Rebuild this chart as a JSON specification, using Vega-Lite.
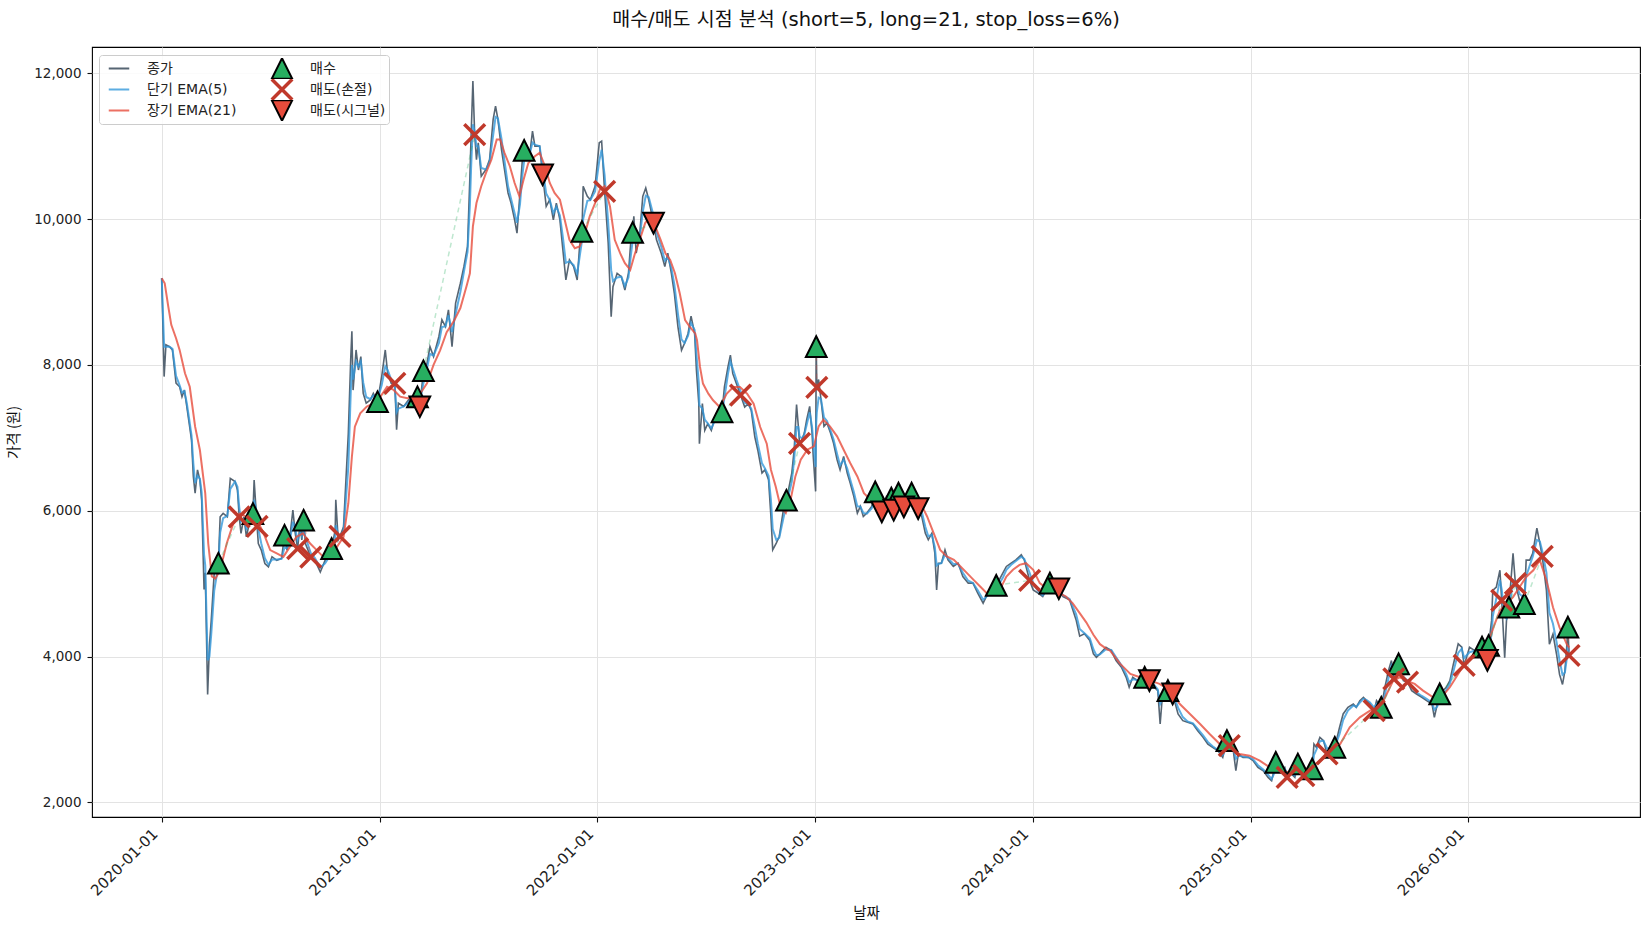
{
  "$schema": "https://vega.github.io/schema/vega-lite/v6.json",
  "width": 1548,
  "height": 770,
  "autosize": {"type": "none"},
  "padding": {"left": 92, "top": 47, "right": 10, "bottom": 113},
  "background": "white",
  "title": {"text": "매수/매도 시점 분석 (short=5, long=21, stop_loss=6%)", "fontSize": 19.5, "fontWeight": "normal", "color": "#111111", "anchor": "middle", "offset": 17},
  "config": {
    "font": "DejaVu Sans, Noto Sans CJK KR",
    "view": {"stroke": "#000000", "strokeWidth": 1.1}
  },
  "datasets": {
    "price": [
      {"d":"2020-01-01","c":9190,"e":9190},{"d":"2020-01-05","c":7840,"e":8250},{"d":"2020-01-08","c":8275,"e":8250},{"d":"2020-01-14","c":8250,"e":8250},{"d":"2020-01-19","c":8205,"e":8220},{"d":"2020-01-25","c":7750,"e":7850},{"d":"2020-01-31","c":7700,"e":7720},{"d":"2020-02-04","c":7565,"e":7620},{"d":"2020-02-08","c":7655,"e":7640},{"d":"2020-02-12","c":7430,"e":7480},{"d":"2020-02-16","c":7200,"e":7260},{"d":"2020-02-20","c":6970,"e":7030},{"d":"2020-02-23","c":6470,"e":6650},{"d":"2020-02-26","c":6240,"e":6380},{"d":"2020-03-01","c":6560,"e":6480},{"d":"2020-03-05","c":6420,"e":6440},{"d":"2020-03-08","c":6150,"e":6250},{"d":"2020-03-12","c":4920,"e":5400},{"d":"2020-03-14","c":5150,"e":5250},{"d":"2020-03-18","c":3480,"e":3950},{"d":"2020-03-21","c":4150,"e":4000},{"d":"2020-03-24","c":4490,"e":4300},{"d":"2020-03-29","c":5140,"e":4900},{"d":"2020-04-05","c":5280,"e":5250},{"d":"2020-04-08","c":5918,"e":5700},{"d":"2020-04-13","c":5963,"e":5900},{"d":"2020-04-20","c":5918,"e":5930},{"d":"2020-04-25","c":6444,"e":6300},{"d":"2020-05-03","c":6400,"e":6400},{"d":"2020-05-07","c":6284,"e":6330},{"d":"2020-05-10","c":5915,"e":6050},{"d":"2020-05-13","c":5690,"e":5850},{"d":"2020-05-18","c":5918,"e":5880},{"d":"2020-05-22","c":5643,"e":5750},{"d":"2020-05-28","c":5870,"e":5820},{"d":"2020-06-02","c":5962,"e":5900},{"d":"2020-06-04","c":6420,"e":6150},{"d":"2020-06-09","c":5787,"e":5950},{"d":"2020-06-11","c":5550,"e":5750},{"d":"2020-06-16","c":5460,"e":5550},{"d":"2020-06-22","c":5277,"e":5350},{"d":"2020-06-28","c":5230,"e":5260},{"d":"2020-07-04","c":5370,"e":5330},{"d":"2020-07-12","c":5320,"e":5330},{"d":"2020-07-20","c":5345,"e":5340},{"d":"2020-07-25","c":5664,"e":5500},{"d":"2020-07-29","c":5460,"e":5480},{"d":"2020-08-03","c":5643,"e":5580},{"d":"2020-08-08","c":6010,"e":5850},{"d":"2020-08-12","c":5690,"e":5750},{"d":"2020-08-16","c":5481,"e":5600},{"d":"2020-08-20","c":5826,"e":5700},{"d":"2020-08-23","c":5600,"e":5650},{"d":"2020-08-26","c":5870,"e":5750},{"d":"2020-08-29","c":5550,"e":5640},{"d":"2020-09-07","c":5365,"e":5420},{"d":"2020-09-14","c":5320,"e":5350},{"d":"2020-09-23","c":5160,"e":5220},{"d":"2020-10-01","c":5320,"e":5280},{"d":"2020-10-12","c":5481,"e":5420},{"d":"2020-10-18","c":5735,"e":5600},{"d":"2020-10-19","c":6150,"e":5800},{"d":"2020-10-23","c":5600,"e":5680},{"d":"2020-10-26","c":5650,"e":5660},{"d":"2020-11-01","c":5780,"e":5720},{"d":"2020-11-09","c":7060,"e":6600},{"d":"2020-11-13","c":8070,"e":7600},{"d":"2020-11-15","c":8460,"e":8000},{"d":"2020-11-17","c":7655,"e":7800},{"d":"2020-11-22","c":8205,"e":8050},{"d":"2020-11-26","c":7930,"e":7980},{"d":"2020-11-30","c":8115,"e":8050},{"d":"2020-12-04","c":7610,"e":7760},{"d":"2020-12-09","c":7475,"e":7560},{"d":"2020-12-16","c":7520,"e":7530},{"d":"2020-12-21","c":7610,"e":7580},{"d":"2020-12-28","c":7495,"e":7530},
      {"d":"2021-01-04","c":7840,"e":7720},{"d":"2021-01-10","c":8205,"e":7980},{"d":"2021-01-14","c":7885,"e":7930},{"d":"2021-01-20","c":7750,"e":7800},{"d":"2021-01-26","c":7747,"e":7700},{"d":"2021-01-29","c":7110,"e":7350},{"d":"2021-02-01","c":7475,"e":7400},{"d":"2021-02-10","c":7430,"e":7430},{"d":"2021-02-18","c":7520,"e":7490},{"d":"2021-02-26","c":7565,"e":7540},{"d":"2021-03-05","c":7563,"e":7560},{"d":"2021-03-09","c":7426,"e":7480},{"d":"2021-03-15","c":7920,"e":7750},{"d":"2021-03-21","c":8020,"e":7950},{"d":"2021-03-26","c":8250,"e":8150},{"d":"2021-04-01","c":8115,"e":8130},{"d":"2021-04-10","c":8390,"e":8300},{"d":"2021-04-15","c":8620,"e":8520},{"d":"2021-04-21","c":8525,"e":8530},{"d":"2021-04-26","c":8755,"e":8680},{"d":"2021-05-02","c":8250,"e":8450},{"d":"2021-05-08","c":8847,"e":8700},{"d":"2021-05-16","c":9120,"e":9000},{"d":"2021-05-22","c":9350,"e":9280},{"d":"2021-05-28","c":9625,"e":9550},{"d":"2021-06-01","c":10587,"e":10200},{"d":"2021-06-03","c":11138,"e":10700},{"d":"2021-06-06","c":11895,"e":11300},{"d":"2021-06-09","c":11158,"e":11200},{"d":"2021-06-12","c":10816,"e":11000},{"d":"2021-06-15","c":11046,"e":11000},{"d":"2021-06-20","c":10587,"e":10700},{"d":"2021-06-28","c":10680,"e":10680},{"d":"2021-07-04","c":10816,"e":10780},{"d":"2021-07-10","c":11367,"e":11150},{"d":"2021-07-14","c":11550,"e":11400},{"d":"2021-07-18","c":11367,"e":11380},{"d":"2021-07-24","c":10954,"e":11100},{"d":"2021-07-29","c":10680,"e":10800},{"d":"2021-08-04","c":10358,"e":10450},{"d":"2021-08-09","c":10220,"e":10280},{"d":"2021-08-15","c":9990,"e":10080},{"d":"2021-08-19","c":9807,"e":9950},{"d":"2021-08-24","c":10358,"e":10200},{"d":"2021-08-28","c":10816,"e":10600},{"d":"2021-08-31","c":10942,"e":10800},{"d":"2021-09-04","c":11000,"e":10950},{"d":"2021-09-09","c":10862,"e":10880},{"d":"2021-09-14","c":11206,"e":11050},{"d":"2021-09-18","c":11000,"e":11020},{"d":"2021-09-26","c":11000,"e":11000},{"d":"2021-10-01","c":10608,"e":10700},{"d":"2021-10-07","c":10174,"e":10350},{"d":"2021-10-13","c":10266,"e":10260},{"d":"2021-10-19","c":9990,"e":10080},{"d":"2021-10-24","c":10220,"e":10170},{"d":"2021-10-30","c":9990,"e":10050},{"d":"2021-11-04","c":9578,"e":9750},{"d":"2021-11-09","c":9165,"e":9400},{"d":"2021-11-15","c":9440,"e":9420},{"d":"2021-11-22","c":9349,"e":9370},{"d":"2021-11-28","c":9165,"e":9250},{"d":"2021-12-02","c":9624,"e":9480},{"d":"2021-12-06","c":9830,"e":9700},{"d":"2021-12-08","c":10450,"e":10000},{"d":"2021-12-15","c":10312,"e":10250},{"d":"2021-12-20","c":10266,"e":10260},{"d":"2021-12-28","c":10450,"e":10380},
      {"d":"2022-01-04","c":11046,"e":10800},{"d":"2022-01-08","c":11069,"e":10950},{"d":"2022-01-13","c":10380,"e":10600},{"d":"2022-01-19","c":9670,"e":9950},{"d":"2022-01-24","c":8660,"e":9300},{"d":"2022-01-27","c":9073,"e":9150},{"d":"2022-02-03","c":9257,"e":9200},{"d":"2022-02-10","c":9211,"e":9210},{"d":"2022-02-16","c":9028,"e":9080},{"d":"2022-02-22","c":9257,"e":9200},{"d":"2022-02-26","c":9700,"e":9500},{"d":"2022-03-01","c":9816,"e":9700},{"d":"2022-03-03","c":10037,"e":9850},{"d":"2022-03-07","c":9532,"e":9680},{"d":"2022-03-13","c":9807,"e":9750},{"d":"2022-03-18","c":10312,"e":10100},{"d":"2022-03-23","c":10426,"e":10320},{"d":"2022-03-28","c":10266,"e":10300},{"d":"2022-04-05","c":9945,"e":10050},{"d":"2022-04-10","c":9715,"e":9820},{"d":"2022-04-18","c":9532,"e":9620},{"d":"2022-04-24","c":9349,"e":9430},{"d":"2022-04-29","c":9532,"e":9480},{"d":"2022-05-05","c":9257,"e":9330},{"d":"2022-05-10","c":8982,"e":9100},{"d":"2022-05-16","c":8523,"e":8700},{"d":"2022-05-22","c":8202,"e":8350},{"d":"2022-05-27","c":8294,"e":8300},{"d":"2022-06-02","c":8431,"e":8400},{"d":"2022-06-07","c":8670,"e":8580},{"d":"2022-06-13","c":8430,"e":8480},{"d":"2022-06-16","c":7930,"e":8150},{"d":"2022-06-20","c":7470,"e":7750},{"d":"2022-06-21","c":6920,"e":7450},{"d":"2022-06-26","c":7470,"e":7400},{"d":"2022-06-30","c":7103,"e":7250},{"d":"2022-07-05","c":7194,"e":7200},{"d":"2022-07-11","c":7103,"e":7130},{"d":"2022-07-19","c":7332,"e":7270},{"d":"2022-07-29","c":7357,"e":7340},{"d":"2022-08-02","c":7700,"e":7550},{"d":"2022-08-08","c":7977,"e":7880},{"d":"2022-08-12","c":8133,"e":8050},{"d":"2022-08-16","c":7880,"e":7950},{"d":"2022-08-22","c":7745,"e":7800},{"d":"2022-08-29","c":7587,"e":7640},{"d":"2022-09-05","c":7423,"e":7480},{"d":"2022-09-11","c":7470,"e":7460},{"d":"2022-09-16","c":7377,"e":7400},{"d":"2022-09-22","c":7011,"e":7150},{"d":"2022-09-27","c":6830,"e":6920},{"d":"2022-10-04","c":6517,"e":6650},{"d":"2022-10-09","c":6563,"e":6580},{"d":"2022-10-15","c":6425,"e":6480},{"d":"2022-10-19","c":5922,"e":6150},{"d":"2022-10-22","c":5464,"e":5750},{"d":"2022-10-28","c":5556,"e":5600},{"d":"2022-11-02","c":5647,"e":5630},{"d":"2022-11-09","c":6014,"e":5900},{"d":"2022-11-14","c":6144,"e":6080},{"d":"2022-11-23","c":6517,"e":6400},{"d":"2022-11-27","c":6837,"e":6700},{"d":"2022-12-01","c":7455,"e":7150},{"d":"2022-12-04","c":7158,"e":7150},{"d":"2022-12-06","c":6923,"e":7020},{"d":"2022-12-10","c":6975,"e":6990},{"d":"2022-12-14","c":7066,"e":7040},{"d":"2022-12-18","c":7249,"e":7180},{"d":"2022-12-23","c":7432,"e":7350},{"d":"2022-12-27","c":7066,"e":7150},{"d":"2022-12-29","c":6746,"e":6950},
      {"d":"2023-01-02","c":6265,"e":6600},{"d":"2023-01-03","c":8250,"e":7200},{"d":"2023-01-04","c":7692,"e":7350},{"d":"2023-01-07","c":7800,"e":7550},{"d":"2023-01-11","c":7524,"e":7530},{"d":"2023-01-16","c":7158,"e":7280},{"d":"2023-01-21","c":7204,"e":7230},{"d":"2023-01-27","c":7066,"e":7100},{"d":"2023-02-01","c":6929,"e":6980},{"d":"2023-02-07","c":6700,"e":6780},{"d":"2023-02-12","c":6563,"e":6620},{"d":"2023-02-18","c":6746,"e":6700},{"d":"2023-02-24","c":6517,"e":6580},{"d":"2023-03-01","c":6380,"e":6430},{"d":"2023-03-07","c":6197,"e":6260},{"d":"2023-03-13","c":5968,"e":6060},{"d":"2023-03-18","c":6060,"e":6060},{"d":"2023-03-23","c":5922,"e":5970},{"d":"2023-03-29","c":5968,"e":5960},{"d":"2023-04-06","c":6060,"e":6030},{"d":"2023-04-12","c":6258,"e":6150},{"d":"2023-04-18","c":6150,"e":6160},{"d":"2023-04-23","c":5984,"e":6050},{"d":"2023-05-01","c":6197,"e":6130},{"d":"2023-05-09","c":6174,"e":6160},{"d":"2023-05-13","c":6007,"e":6080},{"d":"2023-05-21","c":6242,"e":6180},{"d":"2023-05-23","c":6357,"e":6260},{"d":"2023-05-30","c":6052,"e":6150},{"d":"2023-06-07","c":6150,"e":6150},{"d":"2023-06-12","c":6242,"e":6200},{"d":"2023-06-17","c":6197,"e":6200},{"d":"2023-06-23","c":6030,"e":6100},{"d":"2023-06-29","c":5922,"e":5990},{"d":"2023-07-05","c":5693,"e":5780},{"d":"2023-07-10","c":5602,"e":5650},{"d":"2023-07-16","c":5693,"e":5670},{"d":"2023-07-21","c":5419,"e":5500},{"d":"2023-07-24","c":4915,"e":5250},{"d":"2023-07-27","c":5281,"e":5270},{"d":"2023-08-01","c":5281,"e":5280},{"d":"2023-08-07","c":5464,"e":5400},{"d":"2023-08-12","c":5327,"e":5350},{"d":"2023-08-21","c":5236,"e":5270},{"d":"2023-08-29","c":5281,"e":5270},{"d":"2023-09-06","c":5098,"e":5150},{"d":"2023-09-15","c":5007,"e":5040},{"d":"2023-09-23","c":5007,"e":5010},{"d":"2023-10-01","c":4869,"e":4910},{"d":"2023-10-10","c":4732,"e":4780},{"d":"2023-10-18","c":4869,"e":4840},{"d":"2023-10-26","c":4869,"e":4860},{"d":"2023-11-01","c":4977,"e":4930},{"d":"2023-11-12","c":5144,"e":5080},{"d":"2023-11-18","c":5236,"e":5190},{"d":"2023-11-26","c":5281,"e":5260},{"d":"2023-12-04","c":5327,"e":5310},{"d":"2023-12-13","c":5396,"e":5370},{"d":"2023-12-18","c":5327,"e":5340},{"d":"2023-12-27","c":5045,"e":5150},
      {"d":"2024-01-02","c":4915,"e":5000},{"d":"2024-01-10","c":4869,"e":4900},{"d":"2024-01-18","c":4823,"e":4840},{"d":"2024-01-30","c":5008,"e":4950},{"d":"2024-02-04","c":4915,"e":4930},{"d":"2024-02-14","c":4930,"e":4920},{"d":"2024-02-21","c":4823,"e":4840},{"d":"2024-03-03","c":4778,"e":4790},{"d":"2024-03-14","c":4503,"e":4580},{"d":"2024-03-20","c":4280,"e":4380},{"d":"2024-03-28","c":4313,"e":4320},{"d":"2024-04-06","c":4221,"e":4250},{"d":"2024-04-12","c":4037,"e":4100},{"d":"2024-04-17","c":3991,"e":4020},{"d":"2024-04-23","c":4037,"e":4030},{"d":"2024-05-03","c":4128,"e":4100},{"d":"2024-05-12","c":4082,"e":4090},{"d":"2024-05-20","c":3945,"e":3990},{"d":"2024-05-29","c":3854,"e":3880},{"d":"2024-06-06","c":3716,"e":3760},{"d":"2024-06-11","c":3579,"e":3650},{"d":"2024-06-17","c":3716,"e":3690},{"d":"2024-06-25","c":3670,"e":3680},{"d":"2024-07-07","c":3716,"e":3700},{"d":"2024-07-15","c":3670,"e":3680},{"d":"2024-07-23","c":3579,"e":3610},{"d":"2024-07-29","c":3533,"e":3550},{"d":"2024-08-02","c":3075,"e":3350},{"d":"2024-08-06","c":3487,"e":3420},{"d":"2024-08-15","c":3533,"e":3500},{"d":"2024-08-23","c":3487,"e":3500},{"d":"2024-09-01","c":3213,"e":3300},{"d":"2024-09-09","c":3121,"e":3170},{"d":"2024-09-17","c":3098,"e":3110},{"d":"2024-09-26","c":3075,"e":3085},{"d":"2024-10-04","c":2984,"e":3010},{"d":"2024-10-13","c":2892,"e":2920},{"d":"2024-10-21","c":2800,"e":2830},{"d":"2024-10-29","c":2755,"e":2770},{"d":"2024-11-07","c":2709,"e":2720},{"d":"2024-11-15","c":2618,"e":2650},{"d":"2024-11-22","c":2848,"e":2760},{"d":"2024-11-26","c":2779,"e":2770},{"d":"2024-12-02","c":2755,"e":2760},{"d":"2024-12-07","c":2435,"e":2600},{"d":"2024-12-11","c":2663,"e":2640},{"d":"2024-12-19","c":2618,"e":2630},{"d":"2024-12-28","c":2618,"e":2620},
      {"d":"2025-01-05","c":2572,"e":2590},{"d":"2025-01-13","c":2480,"e":2510},{"d":"2025-01-22","c":2435,"e":2450},{"d":"2025-01-30","c":2343,"e":2380},{"d":"2025-02-05","c":2297,"e":2320},{"d":"2025-02-12","c":2550,"e":2450},{"d":"2025-02-19","c":2435,"e":2440},{"d":"2025-02-27","c":2480,"e":2460},{"d":"2025-03-03","c":2344,"e":2400},{"d":"2025-03-08","c":2412,"e":2400},{"d":"2025-03-16","c":2343,"e":2370},{"d":"2025-03-21","c":2527,"e":2450},{"d":"2025-03-24","c":2389,"e":2420},{"d":"2025-03-31","c":2367,"e":2380},{"d":"2025-04-07","c":2389,"e":2385},{"d":"2025-04-14","c":2459,"e":2430},{"d":"2025-04-17","c":2800,"e":2650},{"d":"2025-04-21","c":2755,"e":2720},{"d":"2025-04-27","c":2892,"e":2840},{"d":"2025-05-03","c":2847,"e":2845},{"d":"2025-05-09","c":2665,"e":2740},{"d":"2025-05-17","c":2755,"e":2750},{"d":"2025-05-22","c":2756,"e":2760},{"d":"2025-05-30","c":3030,"e":2940},{"d":"2025-06-05","c":3213,"e":3130},{"d":"2025-06-13","c":3304,"e":3260},{"d":"2025-06-22","c":3350,"e":3330},{"d":"2025-06-27","c":3304,"e":3310},{"d":"2025-07-03","c":3396,"e":3370},{"d":"2025-07-09","c":3442,"e":3420},{"d":"2025-07-14","c":3396,"e":3405},{"d":"2025-07-20","c":3350,"e":3370},{"d":"2025-07-27","c":3260,"e":3300},{"d":"2025-07-31","c":3396,"e":3350},{"d":"2025-08-08","c":3304,"e":3330},{"d":"2025-08-14","c":3579,"e":3480},{"d":"2025-08-20","c":3808,"e":3700},{"d":"2025-08-25","c":3945,"e":3870},{"d":"2025-08-29","c":3695,"e":3770},{"d":"2025-09-02","c":3670,"e":3710},{"d":"2025-09-06","c":3901,"e":3800},{"d":"2025-09-14","c":3670,"e":3720},{"d":"2025-09-21","c":3649,"e":3670},{"d":"2025-09-28","c":3533,"e":3580},{"d":"2025-10-06","c":3487,"e":3510},{"d":"2025-10-15","c":3442,"e":3460},{"d":"2025-10-23","c":3396,"e":3420},{"d":"2025-11-01","c":3350,"e":3370},{"d":"2025-11-05","c":3167,"e":3270},{"d":"2025-11-10","c":3350,"e":3320},{"d":"2025-11-14","c":3489,"e":3420},{"d":"2025-11-25","c":3579,"e":3540},{"d":"2025-12-01","c":3670,"e":3630},{"d":"2025-12-07","c":3899,"e":3800},{"d":"2025-12-15","c":4174,"e":4050},{"d":"2025-12-21","c":4128,"e":4110},{"d":"2025-12-25","c":3878,"e":3980},
      {"d":"2026-01-03","c":4128,"e":4060},{"d":"2026-01-12","c":4082,"e":4080},{"d":"2026-01-20","c":4128,"e":4110},{"d":"2026-01-24","c":4129,"e":4120},{"d":"2026-01-31","c":4174,"e":4150},{"d":"2026-02-02","c":3947,"e":4050},{"d":"2026-02-04","c":4152,"e":4100},{"d":"2026-02-09","c":4493,"e":4300},{"d":"2026-02-11","c":4908,"e":4550},{"d":"2026-02-17","c":4954,"e":4800},{"d":"2026-02-23","c":5184,"e":5050},{"d":"2026-02-26","c":4770,"e":4920},{"d":"2026-03-03","c":3986,"e":4550},{"d":"2026-03-06","c":4493,"e":4520},{"d":"2026-03-10","c":4678,"e":4620},{"d":"2026-03-17","c":5415,"e":5050},{"d":"2026-03-21","c":5000,"e":5020},{"d":"2026-03-28","c":4770,"e":4860},{"d":"2026-04-05","c":4725,"e":4800},{"d":"2026-04-08","c":5323,"e":5100},{"d":"2026-04-14","c":5323,"e":5250},{"d":"2026-04-19","c":5415,"e":5370},{"d":"2026-04-26","c":5760,"e":5600},{"d":"2026-05-01","c":5553,"e":5580},{"d":"2026-05-05","c":5375,"e":5450},{"d":"2026-05-12","c":4908,"e":5150},{"d":"2026-05-17","c":4171,"e":4600},{"d":"2026-05-23","c":4309,"e":4450},{"d":"2026-05-29","c":4032,"e":4200},{"d":"2026-06-03","c":3756,"e":3950},{"d":"2026-06-08","c":3618,"e":3750},{"d":"2026-06-12","c":3802,"e":3780},{"d":"2026-06-15","c":4124,"e":3960},{"d":"2026-06-17","c":4404,"e":4150},{"d":"2026-06-19","c":4015,"e":4080}
    ],
    "ema21": [
      {"d":"2020-01-01","v":9190},{"d":"2020-01-06","v":9120},{"d":"2020-01-12","v":8800},{"d":"2020-01-17","v":8550},{"d":"2020-01-25","v":8366},{"d":"2020-01-31","v":8206},{"d":"2020-02-09","v":7886},{"d":"2020-02-17","v":7700},{"d":"2020-02-26","v":7153},{"d":"2020-03-05","v":6833},{"d":"2020-03-14","v":6238},{"d":"2020-03-19","v":5551},{"d":"2020-03-25","v":5100},{"d":"2020-03-31","v":5070},{"d":"2020-04-08","v":5185},{"d":"2020-04-19","v":5551},{"d":"2020-04-30","v":5826},{"d":"2020-05-11","v":5963},{"d":"2020-05-22","v":5918},{"d":"2020-06-06","v":5918},{"d":"2020-06-20","v":5690},{"d":"2020-07-01","v":5460},{"d":"2020-07-12","v":5414},{"d":"2020-07-23","v":5368},{"d":"2020-08-03","v":5505},{"d":"2020-08-14","v":5643},{"d":"2020-08-25","v":5690},{"d":"2020-09-06","v":5551},{"d":"2020-09-17","v":5460},{"d":"2020-09-28","v":5368},{"d":"2020-10-09","v":5414},{"d":"2020-10-21","v":5505},{"d":"2020-11-01","v":5643},{"d":"2020-11-09","v":6100},{"d":"2020-11-15","v":6741},{"d":"2020-11-20","v":7153},{"d":"2020-11-29","v":7336},{"d":"2020-12-10","v":7428},{"d":"2020-12-21","v":7474},
      {"d":"2021-01-02","v":7565},{"d":"2021-01-13","v":7700},{"d":"2021-01-24","v":7657},{"d":"2021-02-04","v":7565},{"d":"2021-02-16","v":7542},{"d":"2021-02-27","v":7565},{"d":"2021-03-10","v":7611},{"d":"2021-03-21","v":7748},{"d":"2021-04-01","v":8000},{"d":"2021-04-12","v":8200},{"d":"2021-04-23","v":8450},{"d":"2021-05-05","v":8600},{"d":"2021-05-16","v":8780},{"d":"2021-05-27","v":9100},{"d":"2021-06-01","v":9257},{"d":"2021-06-06","v":9899},{"d":"2021-06-12","v":10220},{"d":"2021-06-20","v":10450},{"d":"2021-06-28","v":10633},{"d":"2021-07-07","v":10816},{"d":"2021-07-16","v":11092},{"d":"2021-07-22","v":11092},{"d":"2021-07-29","v":10908},{"d":"2021-08-07","v":10725},{"d":"2021-08-15","v":10495},{"d":"2021-08-23","v":10312},{"d":"2021-08-30","v":10541},{"d":"2021-09-07","v":10770},{"d":"2021-09-18","v":10862},{"d":"2021-09-26","v":10908},{"d":"2021-10-05","v":10725},{"d":"2021-10-13","v":10495},{"d":"2021-10-21","v":10358},{"d":"2021-10-30","v":10266},{"d":"2021-11-07","v":9990},{"d":"2021-11-15","v":9716},{"d":"2021-11-24","v":9601},{"d":"2021-12-02","v":9624},{"d":"2021-12-11","v":9807},{"d":"2021-12-19","v":10037},{"d":"2021-12-28","v":10220},
      {"d":"2022-01-05","v":10404},{"d":"2022-01-13","v":10450},{"d":"2022-01-22","v":10174},{"d":"2022-01-30","v":9716},{"d":"2022-02-08","v":9532},{"d":"2022-02-16","v":9395},{"d":"2022-02-25","v":9303},{"d":"2022-03-05","v":9532},{"d":"2022-03-13","v":9716},{"d":"2022-03-22","v":9945},{"d":"2022-03-31","v":10037},{"d":"2022-04-08","v":9900},{"d":"2022-04-17","v":9716},{"d":"2022-04-25","v":9532},{"d":"2022-05-03","v":9440},{"d":"2022-05-11","v":9257},{"d":"2022-05-19","v":8982},{"d":"2022-05-28","v":8615},{"d":"2022-06-05","v":8523},{"d":"2022-06-14","v":8431},{"d":"2022-06-17","v":8339},{"d":"2022-06-22","v":7972},{"d":"2022-06-27","v":7744},{"d":"2022-07-06","v":7606},{"d":"2022-07-14","v":7515},{"d":"2022-07-25","v":7423},{"d":"2022-08-06","v":7606},{"d":"2022-08-17","v":7698},{"d":"2022-08-28","v":7698},{"d":"2022-09-09","v":7606},{"d":"2022-09-20","v":7469},{"d":"2022-10-01","v":7148},{"d":"2022-10-12","v":6920},{"d":"2022-10-19","v":6563},{"d":"2022-10-27","v":6334},{"d":"2022-11-04","v":6059},{"d":"2022-11-13","v":5968},{"d":"2022-11-21","v":6151},{"d":"2022-11-29","v":6471},{"d":"2022-12-08","v":6700},{"d":"2022-12-19","v":6837},{"d":"2022-12-30","v":6883},
      {"d":"2023-01-07","v":7158},{"d":"2023-01-15","v":7249},{"d":"2023-01-26","v":7158},{"d":"2023-02-07","v":7020},{"d":"2023-02-18","v":6837},{"d":"2023-03-01","v":6654},{"d":"2023-03-13","v":6471},{"d":"2023-03-24","v":6242},{"d":"2023-04-04","v":6151},{"d":"2023-04-21","v":6128},{"d":"2023-05-08","v":6151},{"d":"2023-05-24","v":6174},{"d":"2023-06-10","v":6174},{"d":"2023-06-27","v":6105},{"d":"2023-07-08","v":5922},{"d":"2023-07-19","v":5693},{"d":"2023-07-30","v":5464},{"d":"2023-08-10","v":5373},{"d":"2023-08-22","v":5327},{"d":"2023-09-02","v":5236},{"d":"2023-09-13","v":5144},{"d":"2023-09-24","v":5052},{"d":"2023-10-05","v":4961},{"d":"2023-10-16","v":4869},{"d":"2023-10-27","v":4846},{"d":"2023-11-07","v":4915},{"d":"2023-11-18","v":5098},{"d":"2023-11-29","v":5190},{"d":"2023-12-10","v":5258},{"d":"2023-12-21","v":5281},
      {"d":"2024-01-02","v":5190},{"d":"2024-01-13","v":5007},{"d":"2024-01-24","v":4938},{"d":"2024-02-04","v":4915},{"d":"2024-02-15","v":4869},{"d":"2024-02-26","v":4823},{"d":"2024-03-08","v":4732},{"d":"2024-03-20","v":4595},{"d":"2024-03-31","v":4470},{"d":"2024-04-12","v":4300},{"d":"2024-04-23","v":4170},{"d":"2024-05-05","v":4100},{"d":"2024-05-10","v":4082},{"d":"2024-05-27","v":3899},{"d":"2024-06-13","v":3762},{"d":"2024-06-29","v":3716},{"d":"2024-07-16","v":3670},{"d":"2024-08-01","v":3625},{"d":"2024-08-19","v":3533},{"d":"2024-09-04","v":3350},{"d":"2024-09-21","v":3213},{"d":"2024-10-08","v":3075},{"d":"2024-10-24","v":2938},{"d":"2024-11-10","v":2800},{"d":"2024-11-27","v":2755},{"d":"2024-12-13","v":2663},{"d":"2024-12-30","v":2641},
      {"d":"2025-01-16","v":2572},{"d":"2025-02-02","v":2480},{"d":"2025-02-19","v":2435},{"d":"2025-03-07","v":2412},{"d":"2025-03-24","v":2435},{"d":"2025-04-11","v":2480},{"d":"2025-04-28","v":2572},{"d":"2025-05-14","v":2663},{"d":"2025-05-31","v":2800},{"d":"2025-06-16","v":3030},{"d":"2025-07-03","v":3167},{"d":"2025-07-20","v":3259},{"d":"2025-08-06","v":3304},{"d":"2025-08-17","v":3487},{"d":"2025-08-28","v":3670},{"d":"2025-09-08","v":3716},{"d":"2025-09-19","v":3670},{"d":"2025-10-03","v":3625},{"d":"2025-10-17","v":3533},{"d":"2025-11-03","v":3442},{"d":"2025-11-17","v":3442},{"d":"2025-12-01","v":3579},{"d":"2025-12-15","v":3762},{"d":"2025-12-29","v":3945},
      {"d":"2026-01-14","v":4060},{"d":"2026-01-31","v":4100},{"d":"2026-02-13","v":4420},{"d":"2026-02-23","v":4631},{"d":"2026-03-06","v":4724},{"d":"2026-03-17","v":4816},{"d":"2026-03-28","v":4954},{"d":"2026-04-08","v":5092},{"d":"2026-04-20","v":5184},{"d":"2026-05-01","v":5323},{"d":"2026-05-12","v":5046},{"d":"2026-05-23","v":4677},{"d":"2026-06-03","v":4401},{"d":"2026-06-15","v":4171},{"d":"2026-06-19","v":4124}
    ],
    "trades": [
      {"b":"2020-04-05","bp":5280,"s":"2020-05-10","sp":5915,"w":1},{"b":"2020-06-02","bp":5962,"s":"2020-06-09","sp":5787,"w":0},{"b":"2020-07-25","bp":5664,"s":"2020-08-16","sp":5481,"w":0},{"b":"2020-08-26","bp":5870,"s":"2020-09-07","sp":5365,"w":0},{"b":"2020-10-12","bp":5481,"s":"2020-10-26","sp":5650,"w":1},{"b":"2020-12-28","bp":7495,"s":"2021-01-26","sp":7747,"w":1},{"b":"2021-03-05","bp":7563,"s":"2021-03-09","sp":7426,"w":0},{"b":"2021-03-15","bp":7920,"s":"2021-06-09","sp":11158,"w":1},{"b":"2021-08-31","bp":10942,"s":"2021-10-01","sp":10608,"w":0},{"b":"2021-12-06","bp":9830,"s":"2022-01-13","sp":10380,"w":1},{"b":"2022-03-01","bp":9816,"s":"2022-04-05","sp":9945,"w":1},{"b":"2022-07-29","bp":7357,"s":"2022-08-29","sp":7587,"w":1},{"b":"2022-11-14","bp":6144,"s":"2022-12-06","sp":6923,"w":1},{"b":"2023-01-03","bp":8250,"s":"2023-01-04","sp":7692,"w":0},{"b":"2023-04-12","bp":6258,"s":"2023-04-23","sp":5984,"w":0},{"b":"2023-05-09","bp":6174,"s":"2023-05-13","sp":6007,"w":0},{"b":"2023-05-21","bp":6242,"s":"2023-05-30","sp":6052,"w":0},{"b":"2023-06-12","bp":6242,"s":"2023-06-23","sp":6030,"w":0},{"b":"2023-11-01","bp":4977,"s":"2023-12-27","sp":5045,"w":1},{"b":"2024-01-30","bp":5008,"s":"2024-02-14","sp":4930,"w":0},{"b":"2024-07-07","bp":3716,"s":"2024-07-15","sp":3670,"w":0},{"b":"2024-08-15","bp":3533,"s":"2024-08-23","sp":3487,"w":0},{"b":"2024-11-22","bp":2848,"s":"2024-11-26","sp":2779,"w":0},{"b":"2025-02-12","bp":2550,"s":"2025-03-03","sp":2344,"w":0},{"b":"2025-03-21","bp":2527,"s":"2025-03-31","sp":2367,"w":0},{"b":"2025-04-14","bp":2459,"s":"2025-05-09","sp":2665,"w":1},{"b":"2025-05-22","bp":2756,"s":"2025-07-27","sp":3260,"w":1},{"b":"2025-08-08","bp":3304,"s":"2025-08-29","sp":3695,"w":1},{"b":"2025-09-06","bp":3901,"s":"2025-09-21","sp":3649,"w":0},{"b":"2025-11-14","bp":3489,"s":"2025-12-25","sp":3878,"w":1},{"b":"2026-01-24","bp":4129,"s":"2026-02-02","sp":3947,"w":0},{"b":"2026-02-04","bp":4152,"s":"2026-02-26","sp":4770,"w":1},{"b":"2026-03-10","bp":4678,"s":"2026-03-21","sp":5000,"w":1},{"b":"2026-04-05","bp":4725,"s":"2026-05-05","sp":5375,"w":1},{"b":"2026-06-17","bp":4404,"s":"2026-06-19","sp":4015,"w":0}
    ],
    "signals": [
      {"d":"2020-04-05","v":5280,"k":"매수"},{"d":"2020-06-02","v":5962,"k":"매수"},{"d":"2020-07-25","v":5664,"k":"매수"},{"d":"2020-08-26","v":5870,"k":"매수"},{"d":"2020-10-12","v":5481,"k":"매수"},{"d":"2020-12-28","v":7495,"k":"매수"},{"d":"2021-03-05","v":7563,"k":"매수"},{"d":"2021-03-15","v":7920,"k":"매수"},{"d":"2021-08-31","v":10942,"k":"매수"},{"d":"2021-12-06","v":9830,"k":"매수"},{"d":"2022-03-01","v":9816,"k":"매수"},{"d":"2022-07-29","v":7357,"k":"매수"},{"d":"2022-11-14","v":6144,"k":"매수"},{"d":"2023-01-03","v":8250,"k":"매수"},{"d":"2023-04-12","v":6258,"k":"매수"},{"d":"2023-05-09","v":6174,"k":"매수"},{"d":"2023-05-21","v":6242,"k":"매수"},{"d":"2023-06-12","v":6242,"k":"매수"},{"d":"2023-11-01","v":4977,"k":"매수"},{"d":"2024-01-30","v":5008,"k":"매수"},{"d":"2024-07-07","v":3716,"k":"매수"},{"d":"2024-08-15","v":3533,"k":"매수"},{"d":"2024-11-22","v":2848,"k":"매수"},{"d":"2025-02-12","v":2550,"k":"매수"},{"d":"2025-03-21","v":2527,"k":"매수"},{"d":"2025-04-14","v":2459,"k":"매수"},{"d":"2025-05-22","v":2756,"k":"매수"},{"d":"2025-08-08","v":3304,"k":"매수"},{"d":"2025-09-06","v":3901,"k":"매수"},{"d":"2025-11-14","v":3489,"k":"매수"},{"d":"2026-01-24","v":4129,"k":"매수"},{"d":"2026-02-04","v":4152,"k":"매수"},{"d":"2026-03-10","v":4678,"k":"매수"},{"d":"2026-04-05","v":4725,"k":"매수"},{"d":"2026-06-17","v":4404,"k":"매수"},
      {"d":"2020-05-10","v":5915,"k":"매도(손절)"},{"d":"2020-06-09","v":5787,"k":"매도(손절)"},{"d":"2020-08-16","v":5481,"k":"매도(손절)"},{"d":"2020-09-07","v":5365,"k":"매도(손절)"},{"d":"2020-10-26","v":5650,"k":"매도(손절)"},{"d":"2021-01-26","v":7747,"k":"매도(손절)"},{"d":"2021-06-09","v":11158,"k":"매도(손절)"},{"d":"2022-01-13","v":10380,"k":"매도(손절)"},{"d":"2022-08-29","v":7587,"k":"매도(손절)"},{"d":"2022-12-06","v":6923,"k":"매도(손절)"},{"d":"2023-01-04","v":7692,"k":"매도(손절)"},{"d":"2023-12-27","v":5045,"k":"매도(손절)"},{"d":"2024-11-26","v":2779,"k":"매도(손절)"},{"d":"2025-03-03","v":2344,"k":"매도(손절)"},{"d":"2025-03-31","v":2367,"k":"매도(손절)"},{"d":"2025-05-09","v":2665,"k":"매도(손절)"},{"d":"2025-07-27","v":3260,"k":"매도(손절)"},{"d":"2025-08-29","v":3695,"k":"매도(손절)"},{"d":"2025-09-21","v":3649,"k":"매도(손절)"},{"d":"2025-12-25","v":3878,"k":"매도(손절)"},{"d":"2026-02-26","v":4770,"k":"매도(손절)"},{"d":"2026-03-21","v":5000,"k":"매도(손절)"},{"d":"2026-05-05","v":5375,"k":"매도(손절)"},{"d":"2026-06-19","v":4015,"k":"매도(손절)"},
      {"d":"2021-03-09","v":7426,"k":"매도(시그널)"},{"d":"2021-10-01","v":10608,"k":"매도(시그널)"},{"d":"2022-04-05","v":9945,"k":"매도(시그널)"},{"d":"2023-04-23","v":5984,"k":"매도(시그널)"},{"d":"2023-05-13","v":6007,"k":"매도(시그널)"},{"d":"2023-05-30","v":6052,"k":"매도(시그널)"},{"d":"2023-06-23","v":6030,"k":"매도(시그널)"},{"d":"2024-02-14","v":4930,"k":"매도(시그널)"},{"d":"2024-07-15","v":3670,"k":"매도(시그널)"},{"d":"2024-08-23","v":3487,"k":"매도(시그널)"},{"d":"2026-02-02","v":3947,"k":"매도(시그널)"}
    ]
  },
  "layer": [
    {
      "data": {"name": "price"},
      "mark": {"type": "line", "color": "#2c3e50", "opacity": 0.8, "strokeWidth": 1.6},
      "encoding": {
        "x": {"field": "d", "type": "temporal", "title": "날짜",
          "scale": {"type": "utc", "domain": [{"year": 2019, "month": 9, "date": 6, "utc": true}, {"year": 2026, "month": 10, "date": 16, "utc": true}]},
          "axis": {"values": [{"year": 2020, "month": 1, "date": 1, "utc": true}, {"year": 2021, "month": 1, "date": 1, "utc": true}, {"year": 2022, "month": 1, "date": 1, "utc": true}, {"year": 2023, "month": 1, "date": 1, "utc": true}, {"year": 2024, "month": 1, "date": 1, "utc": true}, {"year": 2025, "month": 1, "date": 1, "utc": true}, {"year": 2026, "month": 1, "date": 1, "utc": true}],
            "format": "%Y-%m-%d", "labelFont": "DejaVu Sans", "labelFontSize": 15, "labelColor": "#222222", "labelAngle": -45, "labelAlign": "right", "labelBaseline": "top", "labelOffset": -12, "labelPadding": 4,
            "tickSize": 5, "tickColor": "#111111", "tickWidth": 1.1, "domain": false, "grid": true, "gridColor": "#e3e3e3", "gridWidth": 1,
            "titleFont": "Noto Sans CJK KR", "titleFontSize": 14.5, "titleFontWeight": "normal", "titleColor": "#111111", "titlePadding": 8}},
        "y": {"field": "c", "type": "quantitative", "title": "가격 (원)",
          "scale": {"domain": [1800, 12360], "nice": false, "zero": false},
          "axis": {"values": [2000, 4000, 6000, 8000, 10000, 12000], "format": ",d", "labelFont": "DejaVu Sans", "labelFontSize": 13.5, "labelColor": "#222222", "labelPadding": 6,
            "tickSize": 5, "tickColor": "#111111", "tickWidth": 1.1, "domain": false, "grid": true, "gridColor": "#e3e3e3", "gridWidth": 1,
            "titleFont": "Noto Sans CJK KR", "titleFontSize": 14.5, "titleFontWeight": "normal", "titleColor": "#111111", "titlePadding": 12}}
      }
    },
    {
      "data": {"name": "price"},
      "mark": {"type": "line", "color": "#3498db", "opacity": 0.8, "strokeWidth": 2},
      "encoding": {
        "x": {"field": "d", "type": "temporal", "title": "날짜"},
        "y": {"field": "e", "type": "quantitative", "title": "가격 (원)"}
      }
    },
    {
      "data": {"name": "ema21"},
      "mark": {"type": "line", "color": "#e74c3c", "opacity": 0.8, "strokeWidth": 2},
      "encoding": {
        "x": {"field": "d", "type": "temporal", "title": "날짜"},
        "y": {"field": "v", "type": "quantitative", "title": "가격 (원)"}
      }
    },
    {
      "data": {"name": "trades"},
      "mark": {"type": "rule", "strokeDash": [5, 4], "strokeWidth": 1.5, "opacity": 0.3},
      "encoding": {
        "x": {"field": "b", "type": "temporal", "title": "날짜"},
        "x2": {"field": "s"},
        "y": {"field": "bp", "type": "quantitative", "title": "가격 (원)"},
        "y2": {"field": "sp"},
        "stroke": {"condition": {"test": "datum.w === 1", "value": "#27ae60"}, "value": "#e74c3c"}
      }
    },
    {
      "data": {"name": "signals"},
      "mark": {"type": "point", "filled": true, "size": 430, "opacity": 1},
      "encoding": {
        "x": {"field": "d", "type": "temporal", "title": "날짜"},
        "y": {"field": "v", "type": "quantitative", "title": "가격 (원)"},
        "shape": {"field": "k", "type": "nominal",
          "scale": {"domain": ["종가", "단기 EMA(5)", "장기 EMA(21)", "매수", "매도(손절)", "매도(시그널)"],
                    "range": ["stroke", "stroke", "stroke", "M0,-1L-1,1L1,1Z", "M-1,-1L1,1M-1,1L1,-1", "M0,1L-1,-1L1,-1Z"]},
          "legend": {"title": null, "orient": "none", "legendX": 7, "legendY": 8, "columns": 2, "columnPadding": 28, "rowPadding": 0, "padding": 3, "clipHeight": 21,
            "symbolSize": 420, "symbolOffset": 5, "labelOffset": 16, "labelFont": "DejaVu Sans, Noto Sans CJK KR", "labelFontSize": 14, "labelColor": "#222222",
            "fillColor": "rgba(255,255,255,0.85)", "strokeColor": "#cccccc", "cornerRadius": 3,
            "encode": {"symbols": {"update": {"opacity": {"value": 1}}}}}
        },
        "fill": {"field": "k", "type": "nominal",
          "scale": {"domain": ["종가", "단기 EMA(5)", "장기 EMA(21)", "매수", "매도(손절)", "매도(시그널)"],
                    "range": ["transparent", "transparent", "transparent", "#27ae60", "transparent", "#e74c3c"]}},
        "stroke": {"field": "k", "type": "nominal",
          "scale": {"domain": ["종가", "단기 EMA(5)", "장기 EMA(21)", "매수", "매도(손절)", "매도(시그널)"],
                    "range": ["#566573", "#5dade2", "#ec7063", "#000000", "#c0392b", "#000000"]}},
        "strokeWidth": {"field": "k", "type": "nominal",
          "scale": {"type": "ordinal", "domain": ["종가", "단기 EMA(5)", "장기 EMA(21)", "매수", "매도(손절)", "매도(시그널)"],
                    "range": [2.2, 2.2, 2.2, 2, 3.5, 2]}}
      }
    }
  ]
}
